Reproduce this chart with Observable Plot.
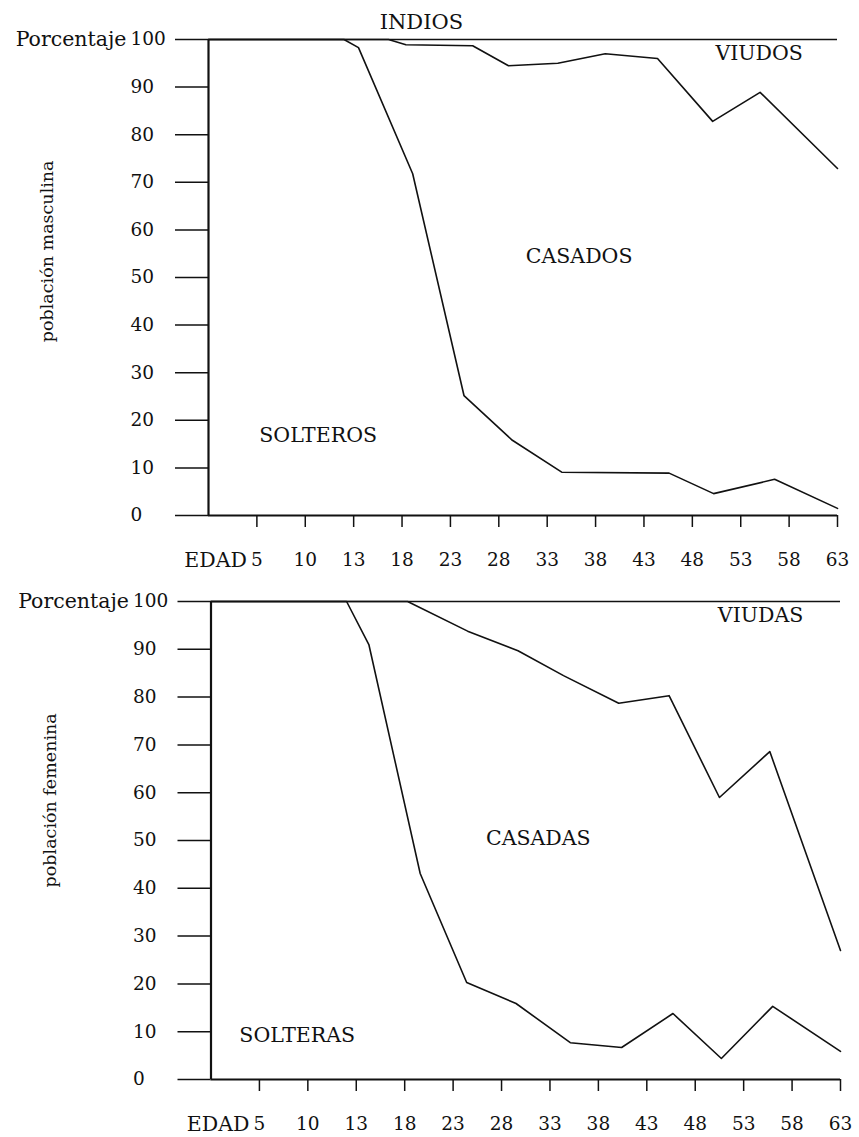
<!DOCTYPE html>
<html><head><meta charset="utf-8">
<script src="https://cdn.jsdelivr.net/npm/d3@7"></script>
<script src="https://cdn.jsdelivr.net/npm/@observablehq/plot@0.6"></script>
<style>body{margin:0;background:#fff} #chart svg{display:block}</style>
</head><body><div id="chart"></div>
<script>
// Tick values
const ageTicks = [5, 10, 13, 18, 23, 28, 33, 38, 43, 48, 53, 58, 63];
const pctTicks = [0, 10, 20, 30, 40, 50, 60, 70, 80, 90, 100];

// Población masculina: límite solteros / casados
const edadSolteros = [0, 12.4, 13.5, 19.1, 24.4, 29.4, 34.5, 45.6, 50.2, 56.5, 63];
const pctSolteros  = [100, 100, 98.3, 71.8, 25.2, 15.8, 9.1, 8.9, 4.6, 7.6, 1.5];
// Población masculina: límite casados / viudos
const edadCasados = [0, 16.6, 18.4, 25.3, 29.0, 34.1, 39.0, 44.4, 50.1, 55.0, 63];
const pctCasados  = [100, 100, 98.9, 98.7, 94.5, 95.0, 97.0, 96.0, 82.8, 88.9, 72.9];

// Población femenina: límite solteras / casadas
const edadSolteras = [0, 12.4, 14.3, 19.6, 24.4, 29.5, 35.1, 40.4, 45.7, 50.7, 56.0, 63];
const pctSolteras  = [100, 100, 91.0, 43.1, 20.3, 15.9, 7.7, 6.7, 13.8, 4.4, 15.3, 5.9];
// Población femenina: límite casadas / viudas
const edadCasadas = [0, 18.3, 24.5, 29.7, 34.4, 40.1, 45.3, 50.5, 55.7, 63];
const pctCasadas  = [100, 100, 93.8, 89.7, 84.5, 78.7, 80.3, 59.0, 68.6, 27.0];

// Area labels (text, age, percent)
const etiquetasH = ["VIUDOS", "CASADOS", "SOLTEROS"];
const edadEtiquetasH = [54.9, 36.3, 10.8];
const pctEtiquetasH = [97.0, 54.5, 16.8];
const etiquetasM = ["VIUDAS", "CASADAS", "SOLTERAS"];
const edadEtiquetasM = [54.75, 31.8, 8.9];
const pctEtiquetasM = [97.0, 50.4, 9.2];

const titulo = "INDIOS";
const W = 859;
const FONT = "DejaVu Serif";
const INK = "#111";

function toPoints(xs, ys) { return xs.map((x, i) => ({edad: x, pct: ys[i]})); }

function panel({height, mt, mb, ml, mr, lines, labels, ages, pcts, ylabel, ylabelAt, title}) {
  const s = (W - ml - mr) / 13;
  const marks = [
    Plot.ruleY([100], {x1: 0, x2: 63, stroke: INK, strokeWidth: 1.5}),
    Plot.ruleY([0], {x1: 0, x2: 63, stroke: INK, strokeWidth: 2.2}),
    Plot.ruleX([0], {y1: 0, y2: 100, stroke: INK, strokeWidth: 2.2}),
    Plot.axisY(pctTicks, {label: null, tickSize: 33, tickPadding: 45, textAnchor: "start", fontSize: 18.5, strokeWidth: 1.5, stroke: INK, fill: INK}),
    Plot.axisX(ageTicks, {label: null, tickSize: 12, tickPadding: 25, fontSize: 18.5, strokeWidth: 1.5, stroke: INK, fill: INK}),
    ...lines.map(([xs, ys]) => Plot.line(toPoints(xs, ys), {x: "edad", y: "pct", stroke: INK, strokeWidth: 1.6})),
    Plot.text(labels, {x: (d, i) => ages[i], y: (d, i) => pcts[i], text: d => d, fontSize: 20.5, fill: INK, textAnchor: "middle"}),
    Plot.text(["Porcentaje"], {frameAnchor: "left", y: 100, dx: -82, textAnchor: "end", fontSize: 20.5, fill: INK}),
    Plot.text(["EDAD"], {x: 5, frameAnchor: "bottom", dx: -10, dy: 25 + 12, lineAnchor: "top", textAnchor: "end", fontSize: 20.5, fill: INK}),
    Plot.text([ylabel], {frameAnchor: "left", y: ylabelAt, dx: -161, rotate: -90, textAnchor: "middle", fontSize: 17.5, fill: INK})
  ];
  if (title) marks.push(Plot.text([title], {x: 20, y: 100, lineAnchor: "bottom", dy: -11, textAnchor: "middle", fontSize: 21, fill: INK}));
  return Plot.plot({
    width: W, height,
    marginTop: mt, marginBottom: mb, marginLeft: ml, marginRight: mr,
    style: {fontFamily: FONT, fontSize: "18px", background: "#fff", color: INK, overflow: "visible"},
    x: {type: "linear", domain: [0, 5, 10, 13, 63], range: [ml, ml + s, ml + 2 * s, ml + 3 * s, W - mr]},
    y: {domain: [0, 100]},
    marks
  });
}

const panelTop = panel({
  height: 578, mt: 39, mb: 63, ml: 208, mr: 22,
  lines: [[edadSolteros, pctSolteros], [edadCasados, pctCasados]],
  labels: etiquetasH, ages: edadEtiquetasH, pcts: pctEtiquetasH,
  ylabel: "población masculina", ylabelAt: 55.5, title: titulo
});
const panelBottom = panel({
  height: 559, mt: 23, mb: 58, ml: 210.5, mr: 19,
  lines: [[edadSolteras, pctSolteras], [edadCasadas, pctCasadas]],
  labels: etiquetasM, ages: edadEtiquetasM, pcts: pctEtiquetasM,
  ylabel: "población femenina", ylabelAt: 58.4
});
document.getElementById("chart").append(panelTop, panelBottom);
</script></body></html>
